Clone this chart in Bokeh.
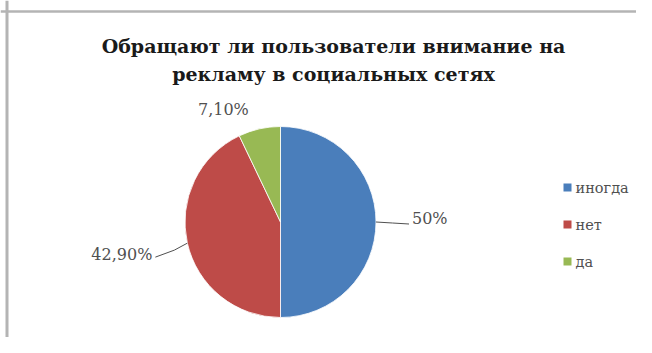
import math
from bokeh.plotting import figure
from bokeh.models import Range1d, Span, Label, ColumnDataSource
from bokeh.core.properties import value
from bokeh.embed import file_html
from bokeh.resources import INLINE

# ---- data ----
categories = ["иногда", "нет", "да"]
shares = [50.0, 42.9, 7.1]
label_texts = ["50%", "42,90%", "7,10%"]
title_lines = ["Обращают ли пользователи внимание на", "рекламу в социальных сетях"]

# ---- styles ----
colors = ["#4A7EBB", "#BE4B48", "#98B954"]
SERIF = "DejaVu Serif"
W, H = 636, 337
CX, CY, R = 280, -221.5, 95.5      # pie centre / radius in page pixels (y negative = down)
lead_dx = [33, -32, 0]
lead_dy = [-2, -14, 0]
text_dx = [3, -3, -36]
text_dy = [6, 3, 19]
lbl_align = ["left", "right", "center"]
lbl_leader = [True, True, False]

p = figure(width=W, height=H, output_backend="svg", toolbar_location=None,
           x_range=Range1d(0, W), y_range=Range1d(-H, 0),
           min_border=0, outline_line_color=None)
p.axis.visible = False
p.grid.visible = False
p.background_fill_color = "white"
p.border_fill_color = "white"

# frame
p.add_layout(Span(location=-11, dimension="width", line_color="#B4B4B4", line_width=2.5))
p.add_layout(Span(location=6.5, dimension="height", line_color="#B4B4B4", line_width=3))

# pie
total = sum(shares)
starts, ends, mids = [], [], []
cum = 0.0
for s in shares:
    a0 = math.pi / 2 - 2 * math.pi * cum / total
    cum += s
    a1 = math.pi / 2 - 2 * math.pi * cum / total
    starts.append(a0)
    ends.append(a1)
    mids.append((a0 + a1) / 2)

src = ColumnDataSource(dict(start=starts, end=ends, color=colors, cat=categories))
p.wedge(x=CX, y=CY, radius=R, start_angle="start", end_angle="end", direction="clock",
        fill_color="color", line_color="white", line_width=0.8, source=src)

# data labels + leader lines
for i, m in enumerate(mids):
    ex = CX + R * math.cos(m)
    ey = CY + R * math.sin(m)
    lx = ex + lead_dx[i]
    ly = ey + lead_dy[i]
    if lbl_leader[i]:
        p.line([ex, (ex + lx) / 2 + (3 if i == 1 else 0), lx], [ey, (ey + ly) / 2, ly],
               line_color="#505050", line_width=1)
    p.add_layout(Label(x=lx + text_dx[i], y=ly + text_dy[i], text=label_texts[i], text_font=SERIF,
                       text_font_size="16px", text_color="#505050",
                       text_align=lbl_align[i], text_baseline="middle"))

# legend (manual)
leg_x = 567
leg_y = [-187, -224, -261]
p.scatter(x=[leg_x] * 3, y=leg_y, marker="square", size=8, fill_color=colors, line_color=None)
p.text(x=[leg_x + 8] * 3, y=leg_y, text=categories, text_font=value(SERIF),
       text_font_size="14.5px", text_color="#505050", text_baseline="middle", text_align="left")

# title
for k, t in enumerate(title_lines):
    p.add_layout(Label(x=333, y=-45 - 28 * k, text=t, text_font=SERIF, text_font_style="bold",
                       text_font_size="19px", text_color="#1a1a1a",
                       text_align="center", text_baseline="middle"))

open("out.html", "w").write(file_html(p, INLINE))
